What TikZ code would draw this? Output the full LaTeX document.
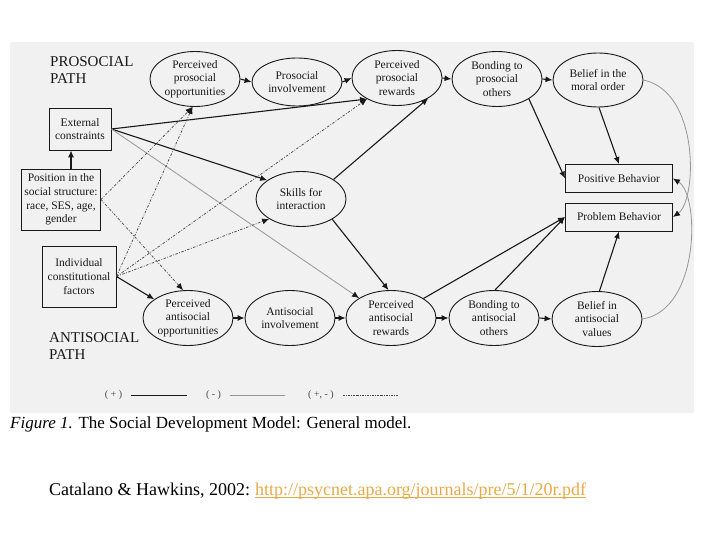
\documentclass[tikz,border=0pt]{standalone}
\usepackage{fontspec}
\setmainfont{Liberation Serif}
\usetikzlibrary{shapes.geometric,arrows.meta,calc}
\definecolor{panel}{RGB}{241,241,241}
\definecolor{ink}{RGB}{25,25,25}
\definecolor{neg}{RGB}{150,150,150}
\definecolor{mix}{RGB}{75,75,75}
\definecolor{linkc}{RGB}{232,170,72}
\begin{document}
\begin{tikzpicture}[x=1pt,y=-1pt,
  oval/.style={ellipse,draw=ink,line width=0.9pt,fill=panel,minimum width=90pt,minimum height=55pt,inner sep=-2pt,align=center,text=ink,font=\fontsize{11.5}{13.5}\selectfont},
  sbox/.style={rectangle,draw=ink,line width=0.9pt,fill=panel,align=center,inner sep=0pt,text=ink,font=\fontsize{11.5}{13.7}\selectfont},
  posarr/.style={draw=ink,line width=1.1pt,-{Latex[length=7pt,width=6pt]}},
  negarr/.style={draw=neg,line width=0.8pt,-{Latex[length=7pt,width=6pt,color=ink]}},
  mixarr/.style={draw=mix,line width=0.75pt,dash pattern=on 2.5pt off 1.5pt on 0.8pt off 1.5pt,-{Latex[length=7pt,width=6pt,color=ink]}},
  pathlab/.style={font=\fontsize{15}{17}\selectfont,align=left,anchor=west,inner sep=0pt,text=ink},
  leg/.style={font=\fontsize{10}{12}\selectfont,inner sep=0pt,text=ink!80},
]
\useasboundingbox (0,0) rectangle (720,540);
\fill[white] (0,0) rectangle (720,540);
\fill[panel] (10,42) rectangle (694,413);

% path labels
\node[pathlab] (prolab) at (50,70) {PROSOCIAL\\PATH};
\node[pathlab] (antlab) at (49,346) {ANTISOCIAL\\PATH};

% ellipses
\node[oval] (ppo) at (195,79) {Perceived\\prosocial\\opportunities};
\node[oval,minimum height=48pt] (pinv) at (297,82) {Prosocial\\involvement};
\node[oval] (ppr) at (397,78) {Perceived\\prosocial\\rewards};
\node[oval] (bpo) at (497,79) {Bonding to\\prosocial\\others};
\node[oval,minimum height=54pt] (bmo) at (598,80) {Belief in the\\moral order};
\node[oval] (skl) at (301,199) {Skills for\\interaction};
\node[oval] (pao) at (188,318) {Perceived\\antisocial\\opportunities};
\node[oval] (ainv) at (290,318) {Antisocial\\involvement};
\node[oval] (par) at (391,318) {Perceived\\antisocial\\rewards};
\node[oval] (bao) at (494,318) {Bonding to\\antisocial\\others};
\node[oval] (bav) at (597,319) {Belief in\\antisocial\\values};

% boxes
\node[sbox,minimum width=62pt,minimum height=42pt] (ext) at (80,129) {External\\constraints};
\node[sbox,minimum width=79pt,minimum height=61pt] (pos) at (61,199.5) {Position in the\\social structure:\\race, SES, age,\\gender};
\node[sbox,minimum width=74pt,minimum height=61pt] (ind) at (79,276.5) {Individual\\constitutional\\factors};
\node[sbox,minimum width=107pt,minimum height=28pt] (posb) at (619,178.5) {Positive Behavior};
\node[sbox,minimum width=107pt,minimum height=28pt] (prob) at (619,217) {Problem Behavior};

% chains
\draw[posarr] (ppo.east) -- (pinv.west);
\draw[posarr] (pinv.east) -- (ppr.west);
\draw[posarr] (ppr.east) -- (bpo.west);
\draw[posarr] (bpo.east) -- (bmo.west);
\draw[posarr] (pao.east) -- (ainv.west);
\draw[posarr] (ainv.east) -- (par.west);
\draw[posarr] (par.east) -- (bao.west);
\draw[posarr] (bao.east) -- (bav.west);

% position -> external
\coordinate (ax) at (71,0);
\draw[posarr] (pos.north -| ax) -- (ext.south -| ax);

% external constraints
\draw[posarr] (ext.east) -- (ppr.215);
\draw[posarr] (ext.east) -- (skl.151);
\draw[negarr] (ext.east) -- (par.148);

% mixed effects
\draw[mixarr] (pos.east) -- (ppo.265);
\draw[mixarr] (pos.east) -- (pao.100);
\draw[mixarr] (ind.east) -- (ppo.265);
\draw[mixarr] (ind.east) -- (ppr.215);
\draw[mixarr] (ind.east) -- (skl.212);
\draw[posarr] (ind.east) -- (pao.151);

% skills
\draw[posarr] (skl.31) -- (ppr.327);
\draw[posarr] (skl.327) -- (par.95);

% to behaviors
\draw[posarr] (par.31) -- (prob.west);
\draw[posarr] (bao.88) -- (prob.west);
\draw[posarr] (bav.85) -- (prob.south);
\draw[posarr] (bpo.328) -- (posb.west);
\draw[posarr] (bmo.272) -- (posb.north);
\draw[negarr] (bmo.east) .. controls (700,92) and (697,200) .. (prob.east);
\draw[negarr] (bav.east) .. controls (700,310) and (700,195) .. (posb.east);

% legend
\node[leg] (l1) at (113.5,395) {( + )};
\draw[ink,line width=1pt] (131,395) -- (187,395);
\node[leg] (l2) at (213.5,395) {( - )};
\draw[neg,line width=0.8pt] (230,395) -- (285,395);
\node[leg] (l3) at (321,395) {( +, - )};
\draw[mix,line width=0.7pt,dash pattern=on 2pt off 1pt on 0.8pt off 1pt] (343,395) -- (398,395);

% caption and citation
\node[anchor=base west,inner sep=0pt,font=\fontsize{17}{19}\selectfont,text=black] (cap) at (10,428) {\textit{Figure 1.} The Social Development Model: General model.};
\node[anchor=base west,inner sep=0pt,font=\fontsize{18}{20}\selectfont,text=black] (cit) at (49,495) {Catalano \& Hawkins, 2002:};
\node[anchor=base west,inner sep=0pt,font=\fontsize{18}{20}\selectfont,text=linkc] (url) at ($(cit.base east)+(4.5,0)$) {http://psycnet.apa.org/journals/pre/5/1/20r.pdf};
\draw[linkc,line width=0.8pt] ([yshift=-2.5pt]url.base west) -- ([yshift=-2.5pt]url.base east);
\end{tikzpicture}
\end{document}
